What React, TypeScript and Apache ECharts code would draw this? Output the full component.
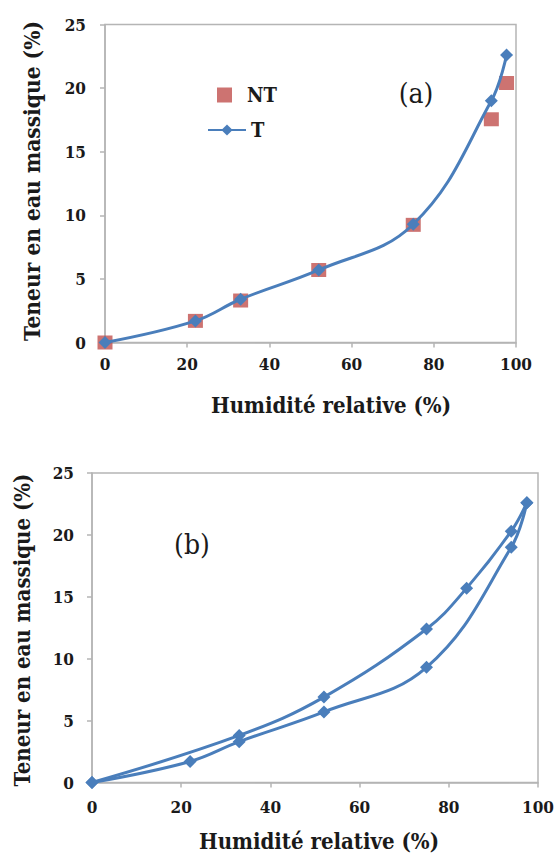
import React, { useEffect, useRef } from "react";
import * as echarts from "echarts";

const hrA = [0, 22, 33, 52, 75, 94, 97.7];
const tValues = [0, 1.7, 3.4, 5.7, 9.3, 19.0, 22.6];
const ntValues = [0, 1.7, 3.3, 5.7, 9.25, 17.55, 20.4];

const hrAds = [0, 22, 33, 52, 75, 94, 97.5];
const adsValues = [0, 1.7, 3.3, 5.7, 9.3, 19.0, 22.6];
const hrDes = [97.5, 94, 84, 75, 52, 33, 0];
const desValues = [22.6, 20.3, 15.7, 12.4, 6.9, 3.8, 0];

const xTitle = "Humidité relative (%)";
const yTitle = "Teneur en eau massique (%)";

const FA = "DejaVu Serif Condensed";
const BLUE = "#4a7ebb";
const RED = "#c0504d";
const AXIS_GRAY = "#b5b5b5";
const INK = "#1a1a1a";

const zip = (xs: number[], ys: number[]) => xs.map((x, i) => [x, ys[i]]);

export default function App() {
  const ref = useRef<HTMLDivElement>(null);

  useEffect(() => {
    if (!ref.current) return;
    const chart = echarts.init(ref.current, null, { renderer: "svg" });

    const mkX = (gridIndex: number, margin: number) => ({
      gridIndex,
      type: "value",
      min: 0,
      max: 100,
      interval: 20,
      axisLine: { show: true, lineStyle: { color: AXIS_GRAY, width: 1.5 } },
      axisTick: { show: true, length: 5, lineStyle: { color: AXIS_GRAY, width: 1.5 } },
      axisLabel: { fontFamily: FA, fontWeight: "bold", fontSize: 17, color: INK, margin },
      splitLine: { show: false },
    });
    const mkY = (gridIndex: number, margin: number) => ({
      gridIndex,
      type: "value",
      min: 0,
      max: 25,
      interval: 5,
      axisLine: { show: true, lineStyle: { color: AXIS_GRAY, width: 1.5 } },
      axisTick: { show: true, length: 5, lineStyle: { color: AXIS_GRAY, width: 1.5 } },
      axisLabel: { fontFamily: FA, fontWeight: "bold", fontSize: 17, color: INK, margin },
      splitLine: { show: false },
    });

    const lineSeries = (name: string, data: number[][], xi: number) => ({
      name,
      type: "line",
      xAxisIndex: xi,
      yAxisIndex: xi,
      data,
      smooth: 0.4,
      symbol: "diamond",
      symbolSize: 13,
      clip: false,
      lineStyle: { color: BLUE, width: 3 },
      itemStyle: { color: BLUE },
      z: 3,
    });

    const title = (text: string, x: number, y: number, font: string, rotate = false) => ({
      type: "text",
      x,
      y,
      rotation: rotate ? Math.PI / 2 : 0,
      style: { text, font, fill: INK, align: "center", verticalAlign: "middle" },
    });

    chart.setOption({
      animation: false,
      backgroundColor: "#ffffff",
      grid: [
        { left: 105, top: 24.5, width: 411, height: 318, show: true, borderColor: AXIS_GRAY, borderWidth: 1.5 },
        { left: 92, top: 473, width: 446, height: 309.5, show: true, borderColor: AXIS_GRAY, borderWidth: 1.5 },
      ],
      xAxis: [mkX(0, 13), mkX(1, 16)],
      yAxis: [mkY(0, 19), mkY(1, 18)],
      legend: [
        {
          data: [{ name: "NT", icon: "rect" }],
          left: 212,
          top: 80,
          itemWidth: 15,
          itemHeight: 15,
          textStyle: { fontFamily: FA, fontWeight: "bold", fontSize: 20, color: INK, padding: [0, 0, 0, 10] },
        },
        {
          data: ["T"],
          left: 202,
          top: 115,
          itemWidth: 38,
          itemHeight: 14,
          textStyle: { fontFamily: FA, fontWeight: "bold", fontSize: 20, color: INK },
        },
      ],
      graphic: [
        title(xTitle, 331, 405, `bold 22px ${FA}`),
        title(yTitle, 32, 181, `bold 22.5px ${FA}`, true),
        title(xTitle, 319, 841, `bold 22px ${FA}`),
        title(yTitle, 22, 630, `bold 22px ${FA}`, true),
        title("(a)", 416, 93, `28px ${FA}`),
        title("(b)", 192, 544, `28px ${FA}`),
      ],
      series: [
        {
          name: "NT",
          type: "scatter",
          xAxisIndex: 0,
          yAxisIndex: 0,
          data: zip(hrA, ntValues),
          symbol: "rect",
          symbolSize: [15, 14],
          clip: false,
          itemStyle: { color: RED },
          z: 2,
        },
        lineSeries("T", zip(hrA, tValues), 0),
        lineSeries("Adsorption", zip(hrAds, adsValues), 1),
        lineSeries("Désorption", zip(hrDes, desValues), 1),
      ],
    });

    return () => chart.dispose();
  }, []);

  return (
    <div
      ref={ref}
      style={{ position: "absolute", left: 0, top: 0, width: 558, height: 854, background: "#fff" }}
    />
  );
}
